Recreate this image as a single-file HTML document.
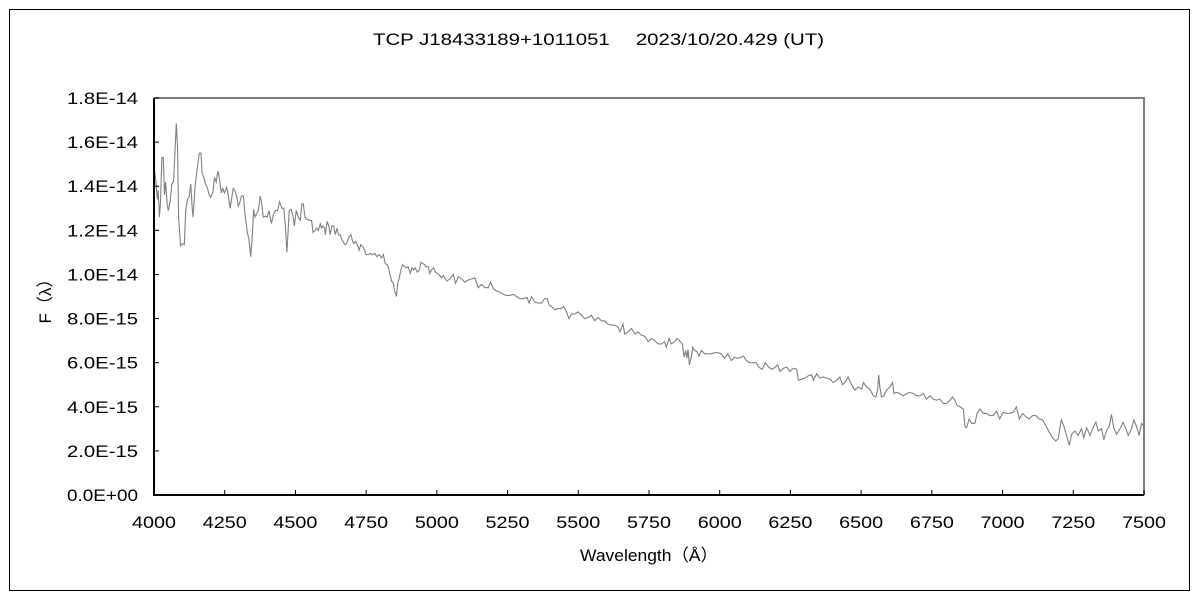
<!DOCTYPE html>
<html><head><meta charset="utf-8"><style>
html,body{margin:0;padding:0;background:#fff;}
svg{display:block;}
text{font-family:"Liberation Sans","Noto Sans CJK JP",sans-serif;fill:#000;}
</style></head><body>
<svg id="chart" width="1200" height="600">
<rect x="9.5" y="9.5" width="1180" height="581" fill="#fff" stroke="#000" stroke-width="1"/>
<text x="373" y="45" font-size="17" textLength="451" lengthAdjust="spacingAndGlyphs">TCP J18433189+1011051　 2023/10/20.429 (UT)</text>
<g id="plot"></g>
<text x="580" y="561" font-size="17" textLength="138" lengthAdjust="spacingAndGlyphs">Wavelength（Å）</text>
<text transform="translate(51,297) rotate(-90)" font-size="17" text-anchor="middle">F（λ）</text>
</svg>
<script>
const xTicks=[4000,4250,4500,4750,5000,5250,5500,5750,6000,6250,6500,6750,7000,7250,7500];
const yTicks=[0,2,4,6,8,10,12,14,16,18];
const yTickLabels=["0.0E+00","2.0E-15","4.0E-15","6.0E-15","8.0E-15","1.0E-14","1.2E-14","1.4E-14","1.6E-14","1.8E-14"];
const wavelengths=[4000,4007,4012,4015,4019,4023,4028,4033,4037,4041,4047,4051,4058,4063,4069,4073,4079,4083,4087,4094,4101,4107,4112,4118,4124,4130,4134,4138,4142,4146,4151,4160,4166,4170,4176,4182,4188,4194,4200,4208,4214,4220,4226,4232,4238,4243,4249,4257,4263,4269,4274,4280,4286,4292,4298,4304,4309,4316,4322,4330,4336,4342,4347,4352,4357,4363,4369,4375,4380,4386,4394,4400,4407,4415,4423,4430,4437,4444,4452,4459,4465,4470,4473,4478,4485,4492,4496,4503,4510,4517,4523,4528,4534,4541,4549,4557,4562,4569,4575,4581,4588,4592,4597,4603,4606,4612,4618,4623,4629,4635,4641,4647,4652,4658,4664,4672,4678,4684,4689,4696,4702,4707,4713,4719,4725,4731,4739,4745,4750,4758,4765,4773,4781,4788,4796,4804,4811,4817,4823,4828,4834,4840,4846,4851,4857,4862,4866,4873,4879,4886,4892,4898,4906,4912,4918,4923,4931,4938,4944,4950,4956,4961,4969,4975,4981,4989,4995,5001,5008,5016,5023,5035,5046,5058,5066,5076,5087,5099,5111,5123,5134,5146,5158,5170,5182,5190,5200,5211,5223,5235,5246,5258,5270,5282,5294,5305,5319,5326,5335,5346,5358,5370,5381,5390,5397,5405,5417,5428,5440,5449,5458,5467,5476,5488,5499,5511,5523,5535,5546,5558,5570,5582,5593,5605,5617,5629,5641,5647,5658,5664,5676,5688,5700,5711,5723,5735,5747,5758,5770,5782,5794,5805,5811,5821,5829,5841,5849,5858,5868,5874,5880,5884,5888,5893,5900,5905,5911,5919,5927,5935,5947,5958,5970,5982,5994,6005,6017,6029,6041,6052,6064,6076,6084,6094,6105,6117,6129,6138,6150,6162,6173,6185,6197,6205,6213,6225,6237,6248,6260,6272,6278,6290,6301,6313,6325,6331,6343,6354,6366,6378,6390,6401,6413,6425,6434,6443,6454,6466,6478,6490,6502,6508,6519,6531,6543,6552,6559,6562,6566,6572,6580,6590,6602,6611,6616,6625,6637,6649,6661,6672,6684,6696,6708,6720,6731,6743,6755,6767,6778,6790,6802,6814,6823,6831,6840,6849,6861,6867,6873,6882,6890,6902,6910,6920,6932,6943,6955,6967,6979,6990,7002,7014,7026,7038,7049,7059,7071,7082,7094,7106,7118,7129,7141,7153,7165,7177,7188,7197,7202,7208,7217,7226,7236,7244,7256,7267,7279,7287,7297,7309,7320,7330,7338,7350,7358,7367,7377,7385,7393,7403,7415,7426,7436,7444,7456,7464,7474,7483,7491,7497];
const fluxes=[14.9,14.2,13.4,13.8,12.6,13.3,15.3,15.3,13.6,14.2,13.1,12.9,13.4,14.1,14.2,15.2,16.85,15.8,12.6,11.3,11.4,11.35,12.9,13.4,13.5,14.1,13.2,12.6,13.4,14.1,14.6,15.5,15.5,14.6,14.4,14.1,13.95,13.65,13.5,13.7,14.4,14.2,14.7,14.3,13.7,13.9,13.7,13.95,13.55,13.0,13.4,13.9,13.8,13.55,13.1,13.3,13.55,13.55,12.7,11.9,11.6,10.8,11.7,12.95,12.6,12.75,12.9,13.55,13.3,12.6,12.65,12.6,12.9,12.3,12.75,12.9,12.9,13.3,13.0,13.0,12.1,11.0,11.7,12.9,12.95,12.6,12.2,12.9,12.6,12.45,13.2,13.2,12.6,12.5,12.45,12.45,11.9,12.0,12.1,12.0,12.3,12.1,12.2,12.1,11.8,12.4,12.2,11.8,12.2,12.2,11.8,12.1,11.8,11.8,11.6,11.4,11.35,11.5,11.7,11.8,11.5,11.4,11.5,11.35,11.1,11.35,11.25,11.1,10.9,10.9,10.95,10.9,10.95,10.8,10.9,10.75,10.9,10.5,10.45,10.35,10.0,9.7,9.6,9.25,9.0,9.6,9.8,10.2,10.45,10.35,10.3,10.35,10.05,10.3,10.2,10.3,10.1,10.2,10.55,10.5,10.45,10.35,10.35,10.05,10.2,10.3,10.1,10.05,10.0,9.85,9.95,9.7,9.8,10.0,9.6,9.9,9.8,9.65,9.75,9.8,9.85,9.4,9.55,9.4,9.4,9.65,9.35,9.25,9.2,9.1,9.05,9.05,9.1,9.0,8.9,8.9,8.95,8.7,9.0,8.75,8.7,8.7,8.9,8.9,8.6,8.55,8.4,8.45,8.45,8.55,8.3,8.0,8.2,8.2,8.3,8.15,8.0,8.05,8.15,7.9,8.05,7.9,7.9,7.75,7.7,7.7,7.6,7.4,7.75,7.3,7.4,7.55,7.3,7.4,7.25,7.2,6.95,7.1,7.0,6.85,6.85,6.95,6.7,7.1,6.85,6.95,7.1,7.0,6.85,6.25,6.55,6.2,6.6,5.9,6.3,6.7,6.55,6.5,6.3,6.55,6.4,6.4,6.4,6.45,6.45,6.4,6.2,6.4,6.1,6.25,6.2,6.25,6.3,6.1,6.0,6.0,6.0,5.8,5.7,6.0,5.8,5.7,5.8,5.9,5.6,5.75,5.8,5.6,5.75,5.7,5.2,5.25,5.3,5.4,5.45,5.2,5.5,5.3,5.35,5.3,5.25,5.1,5.2,5.35,5.0,5.1,5.35,5.0,4.75,4.9,4.8,5.1,4.9,4.8,4.5,4.45,4.8,5.45,4.9,4.45,4.5,4.75,4.9,5.1,4.6,4.65,4.6,4.5,4.6,4.65,4.6,4.5,4.5,4.6,4.35,4.5,4.35,4.3,4.35,4.15,4.15,4.3,4.45,4.3,4.05,4.0,3.9,3.1,3.05,3.45,3.25,3.25,3.7,3.9,3.7,3.7,3.6,3.6,3.8,3.45,3.75,3.7,3.7,3.75,4.0,3.45,3.7,3.55,3.45,3.6,3.6,3.45,3.4,3.15,2.85,2.6,2.45,2.55,3.0,3.4,3.1,2.7,2.25,2.75,2.9,2.7,3.0,2.6,3.05,2.7,3.05,3.3,2.9,3.0,2.5,2.9,3.1,3.65,3.05,2.75,3.0,3.3,3.0,2.7,3.0,3.4,3.1,2.7,3.25,3.15];

const NS='http://www.w3.org/2000/svg';
const L=154,R=1144,T=98,B=495;
const xMin=4000,xMax=7500,yMin=0,yMax=18;
function xs(w){return L+(w-xMin)/(xMax-xMin)*(R-L);}
function ys(f){return B-(f-yMin)/(yMax-yMin)*(B-T);}
const g=document.getElementById('plot');
function mk(tag,attrs){const e=document.createElementNS(NS,tag);for(const k in attrs)e.setAttribute(k,attrs[k]);g.appendChild(e);return e;}

const fr=mk('path',{d:`M${L} ${T}H${R}V${B}`,fill:'none',stroke:'#808080','stroke-width':2});



let pts=wavelengths.map((w,i)=>xs(w).toFixed(1)+','+ys(fluxes[i]).toFixed(1)).join(' ');
const line=mk('polyline',{points:pts,fill:'none',stroke:'#808080','stroke-width':1.1});



const ya=mk('line',{x1:L,y1:T,x2:L,y2:B+1,stroke:'#000','stroke-width':2});


const xa=mk('line',{x1:L-1,y1:B,x2:R,y2:B,stroke:'#000','stroke-width':2});



yTicks.forEach((v,i)=>{
  const y=ys(v);
  const t=mk('line',{x1:L,y1:y,x2:L+5,y2:y,stroke:'#000','stroke-width':1});
  
  
  const tx=mk('text',{x:67,y:y+6,'font-size':17,textLength:71,lengthAdjust:'spacingAndGlyphs'});
  tx.textContent=yTickLabels[i];
  
  
});
xTicks.forEach(v=>{
  const x=xs(v);
  const t=mk('line',{x1:x,y1:B,x2:x,y2:B-5,stroke:'#000','stroke-width':1});
  
  
  const tx=mk('text',{x:x-22,y:528,'font-size':17,textLength:44,lengthAdjust:'spacingAndGlyphs'});
  tx.textContent=String(v);
  
  
});
</script>
</body></html>
